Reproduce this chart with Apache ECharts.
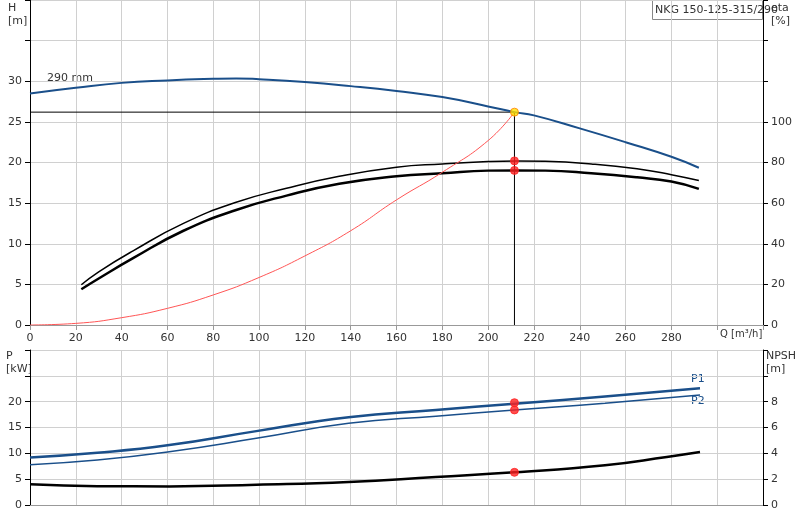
<!DOCTYPE html>
<html><head><meta charset="utf-8">
<script src="https://cdn.jsdelivr.net/npm/echarts@6/dist/echarts.min.js"></script>
<style>html,body{margin:0;padding:0;background:#fff}#c{width:800px;height:520px}</style>
</head><body><div id="c"></div>
<script>
const headQ = [0,20,40,60,80,90,100,120,140,160,180,200,211.5,220,240,260,280,292];
const headH = [28.5,29.2,29.8,30.1,30.3,30.35,30.25,29.9,29.4,28.8,28.05,26.9,26.2,25.8,24.2,22.5,20.7,19.35];
const etaQ = [22.4,30,45,67,90,112,135,160,180,200,212,225,245,265,280,292];
const eta1 = [19.8,26.2,36.5,50,60.4,67.3,73.2,77.7,79.3,80.5,80.8,80.6,79.3,76.9,74,71.1];
const eta2 = [17.6,22.9,32.9,46.4,56.6,63.7,69.5,73.2,74.7,76,76.1,76,74.7,72.7,70.6,67];
const sysQ = [0,20,40,60,80,100,120,140,160,180,200,211.5];
const sysH = [0,0.2,0.9,2.05,3.7,5.85,8.5,11.6,15.4,18.8,22.7,26.2];
const powQ = [0,29.4,60.8,98.8,139.1,177.2,211.5,251,292.5];
const p1 = [9.2,10.1,11.6,14.3,17.0,18.4,19.6,21.0,22.6];
const p2 = [7.8,8.7,10.3,12.9,15.8,17.2,18.4,19.7,21.3];
const npshQ = [0,29.4,60.8,98.8,139.1,177.2,211.5,251,278,292.5];
const npsh = [1.6,1.46,1.44,1.57,1.78,2.17,2.53,3.08,3.72,4.1];
const duty = {q:211.5, h:26.2, eta1:80.8, eta2:76.1, p1:19.8, p2:18.4, npsh:2.53};

const zip = (a,b)=>a.map((v,i)=>[v,b[i]]);
const lbl = (f)=>({color:'#333', fontSize:11, fontFamily:'DejaVu Sans', formatter:f});
const gridLine = ()=>({show:true, lineStyle:{color:'#d0d0d0', width:1}});
const ln = (x,y,data,color,width)=>({type:'line',xAxisIndex:x,yAxisIndex:y,data:data,smooth:true,showSymbol:false,symbol:'none',lineStyle:{color:color,width:width},z:3});
const dot = (x,y,pt,color,border)=>({type:'scatter',xAxisIndex:x,yAxisIndex:y,data:[pt],symbolSize:8,itemStyle:{color:color,borderColor:border||color,borderWidth:1},z:6});
const txt = (l,t,s,color,size)=>({type:'text',left:l,top:t,style:{text:s,fill:color||'#333',font:(size||11)+'px DejaVu Sans',lineHeight:13}});

function build(withGraphic){
  const o = {
    animation:false,
    grid:[{left:30,right:37,top:0,height:325},{left:30,right:37,top:350,height:155}],
    xAxis:[
      {gridIndex:0,type:'value',min:0,max:320,interval:20,axisLine:{lineStyle:{color:'#999'}},
       axisLabel:lbl(v=>v>=300?'':String(v)),splitLine:gridLine()},
      {gridIndex:1,type:'value',min:0,max:320,interval:20,axisLine:{lineStyle:{color:'#999'}},axisTick:{show:false},axisLabel:{show:false},splitLine:gridLine()}
    ],
    yAxis:[
      {gridIndex:0,type:'value',min:0,max:40,interval:5,axisLine:{show:true,lineStyle:{color:'#000'}},axisTick:{show:true},
       axisLabel:lbl(v=>v>30?'':String(v)),splitLine:gridLine()},
      {gridIndex:0,type:'value',position:'right',min:0,max:160,interval:20,axisLine:{show:true,lineStyle:{color:'#000'}},axisTick:{show:true},
       axisLabel:lbl(v=>v>100?'':String(v)),splitLine:{show:false}},
      {gridIndex:1,type:'value',min:0,max:30,interval:5,axisLine:{show:true,lineStyle:{color:'#000'}},axisTick:{show:true},
       axisLabel:lbl(v=>v>20?'':String(v)),splitLine:gridLine()},
      {gridIndex:1,type:'value',position:'right',min:0,max:12,interval:2,axisLine:{show:true,lineStyle:{color:'#000'}},axisTick:{show:true},
       axisLabel:lbl(v=>v>8?'':String(v)),splitLine:{show:false}}
    ],
    series:[
      ln(0,0,zip(headQ,headH),'#1a4f8a',2),
      ln(0,1,zip(etaQ,eta1),'#000',1.5),
      ln(0,1,zip(etaQ,eta2),'#000',2.5),
      ln(0,0,zip(sysQ,sysH),'#ff5555',1),
      {type:'line',xAxisIndex:0,yAxisIndex:0,data:[[0,duty.h],[duty.q,duty.h],[duty.q,0]],showSymbol:false,symbol:'none',lineStyle:{color:'#000',width:1},z:2},
      dot(0,1,[duty.q,duty.eta1],'#ff2020'),
      dot(0,1,[duty.q,duty.eta2],'#ff2020'),
      dot(0,0,[duty.q,duty.h],'#ffe000','#ff8000'),
      ln(1,2,zip(powQ,p1),'#1a4f8a',2.5),
      ln(1,2,zip(powQ,p2),'#1a4f8a',1.5),
      ln(1,3,zip(npshQ,npsh),'#000',2.5),
      dot(1,2,[duty.q,duty.p1],'#ff2020'),
      dot(1,2,[duty.q,duty.p2],'#ff2020'),
      dot(1,3,[duty.q,duty.npsh],'#ff2020')
    ]
  };
  if (withGraphic) o.graphic = {elements:[
    txt(8,2,'H\n[m]'),
    txt(771,2,'eta\n[%]'),
    {type:'rect',left:652,top:0,shape:{width:110,height:19},style:{fill:'#fff',stroke:'#888',lineWidth:1}},
    txt(655,4,'NKG 150-125-315/290'),
    txt(47,72,'290 mm'),
    txt(720,328,'Q [m³/h]','#333',10),
    txt(6,350,'P\n[kW]'),
    txt(766,350,'NPSH\n[m]'),
    txt(691,373,'P1','#1a4f8a'),
    txt(691,395,'P2','#1a4f8a')
  ]};
  return o;
}
const el = document.getElementById('c');
let chart = echarts.init(el);
try { chart.setOption(build(true)); }
catch(e){
  console.log('retry without graphic: '+e.message);
  chart.dispose(); chart = echarts.init(el);
  chart.setOption(build(false));
}
</script></body></html>
